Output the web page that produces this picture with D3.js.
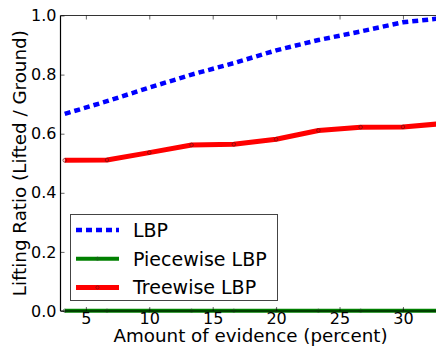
<!DOCTYPE html>
<html>
<head>
<meta charset="utf-8">
<script src="https://cdn.jsdelivr.net/npm/d3@7"></script>
<style>
  html, body { margin: 0; padding: 0; background: #fff; }
  svg { display: block; font-family: "DejaVu Sans", sans-serif; }
</style>
</head>
<body>
<svg id="chart" width="436" height="351"></svg>
<script>
// Amount of evidence (percent) at which each method was evaluated
const evidence = [10/3, 20/3, 10, 40/3, 50/3, 20, 70/3, 80/3, 30, 100/3];
// Lifting ratio (lifted / ground) per method
const lbp       = [0.667, 0.710, 0.756, 0.800, 0.839, 0.882, 0.917, 0.946, 0.977, 0.992];
const piecewise = [0.001, 0.001, 0.001, 0.001, 0.001, 0.001, 0.001, 0.001, 0.001, 0.001];
const treewise  = [0.510, 0.511, 0.536, 0.562, 0.564, 0.581, 0.611, 0.622, 0.623, 0.635];

const xTicks = [5, 10, 15, 20, 25, 30];
const yTicks = [0.0, 0.2, 0.4, 0.6, 0.8, 1.0];
const seriesNames = ["LBP", "Piecewise LBP", "Treewise LBP"];

const svg = d3.select("#chart");
const plotLeft = 60.5, plotTop = 15.5, plotBottom = 311, plotRight = 441;

const x = d3.scaleLinear().domain([3, 33]).range([plotLeft, plotRight]);
const y = d3.scaleLinear().domain([0, 1]).range([plotBottom, plotTop]);

// Plot clip
svg.append("defs").append("clipPath").attr("id", "plotclip")
  .append("rect").attr("x", plotLeft).attr("y", plotTop - 4)
  .attr("width", plotRight - plotLeft).attr("height", plotBottom - plotTop + 8);

const plot = svg.append("g").attr("clip-path", "url(#plotclip)");

const line = vals => d3.line()
  .x((d, i) => x(evidence[i]))
  .y(d => y(d))(vals);

// Piecewise LBP (green, along zero)
plot.append("path").attr("d", line(piecewise))
  .attr("fill", "none").attr("stroke", "#008000").attr("stroke-width", 4);
plot.selectAll(".pm").data(piecewise).join("circle")
  .attr("cx", (d, i) => x(evidence[i])).attr("cy", d => y(d)).attr("r", 1.6)
  .attr("fill", "none").attr("stroke", "#2a4a2a").attr("stroke-width", 0.6);

// Treewise LBP (red)
plot.append("path").attr("d", line(treewise))
  .attr("fill", "none").attr("stroke", "#ff0000").attr("stroke-width", 5)
  .attr("stroke-linejoin", "round");
plot.selectAll(".tm").data(treewise).join("circle")
  .attr("cx", (d, i) => x(evidence[i])).attr("cy", d => y(d)).attr("r", 1.8)
  .attr("fill", "none").attr("stroke", "#6a1010").attr("stroke-width", 0.7);

// LBP (blue dashed)
plot.append("path").attr("d", line(lbp))
  .attr("fill", "none").attr("stroke", "#0000ff").attr("stroke-width", 4.5)
  .attr("stroke-dasharray", "6,4");

// Frame
const frame = svg.append("g");
frame.append("line").attr("x1", plotLeft).attr("x2", plotLeft).attr("y1", plotTop).attr("y2", plotBottom)
  .attr("stroke", "#000").attr("stroke-width", 1.2);
frame.append("line").attr("x1", plotLeft).attr("x2", 436).attr("y1", plotTop).attr("y2", plotTop)
  .attr("stroke", "#333").attr("stroke-width", 1.2);
frame.append("line").attr("x1", plotLeft).attr("x2", 436).attr("y1", plotBottom).attr("y2", plotBottom)
  .attr("stroke", "#000").attr("stroke-width", 1.2);

// Ticks pointing into the plot
const tickLen = 4;
const xAxisB = d3.axisBottom(x).tickValues(xTicks).tickSize(-tickLen).tickPadding(6)
  .tickFormat(d3.format("d"));
const gxb = svg.append("g").attr("transform", `translate(0,${plotBottom})`).call(xAxisB);
const xAxisT = d3.axisTop(x).tickValues(xTicks).tickSize(-tickLen).tickFormat("");
const gxt = svg.append("g").attr("transform", `translate(0,${plotTop})`).call(xAxisT);
const yAxisL = d3.axisLeft(y).tickValues(yTicks).tickSize(-tickLen).tickPadding(4)
  .tickFormat(d3.format(".1f"));
const gyl = svg.append("g").attr("transform", `translate(${plotLeft},0)`).call(yAxisL);

[gxb, gxt, gyl].forEach(g => {
  g.select(".domain").remove();
  g.selectAll(".tick line").attr("stroke", "#000").attr("stroke-width", 0.6);
  g.selectAll("text").attr("font-family", "DejaVu Sans").attr("font-size", 16).attr("fill", "#000");
});
gxb.selectAll("text").attr("dy", "0.71em").attr("y", 2);

// Axis titles
svg.append("text").attr("x", 250.5).attr("y", 341.5).attr("text-anchor", "middle")
  .attr("font-size", 18.3).attr("fill", "#000").text("Amount of evidence (percent)");
svg.append("text").attr("transform", `translate(25.5,${(plotTop + plotBottom) / 2}) rotate(-90)`)
  .attr("text-anchor", "middle").attr("font-size", 18.3).attr("fill", "#000")
  .text("Lifting Ratio (Lifted / Ground)");

// Legend
const legend = svg.append("g");
legend.append("rect").attr("x", 70.5).attr("y", 214.5).attr("width", 207).attr("height", 86)
  .attr("fill", "#fff").attr("stroke", "#444").attr("stroke-width", 1);
const legendStyles = [
  { color: "#0000ff", width: 4.5, dash: "6,4", marker: false },
  { color: "#008000", width: 4, dash: null, marker: true, mstroke: "#2a4a2a" },
  { color: "#ff0000", width: 5, dash: null, marker: true, mstroke: "#6a1010" }
];
seriesNames.forEach((name, i) => {
  const cy = 230 + i * 28.7;
  const s = legendStyles[i];
  legend.append("line").attr("x1", 76).attr("x2", 119).attr("y1", cy).attr("y2", cy)
    .attr("stroke", s.color).attr("stroke-width", s.width)
    .attr("stroke-dasharray", s.dash);
  if (s.marker) {
    legend.append("circle").attr("cx", 97.5).attr("cy", cy).attr("r", 1.6)
      .attr("fill", "none").attr("stroke", s.mstroke).attr("stroke-width", 0.6);
  }
  legend.append("text").attr("x", 133).attr("y", cy).attr("dy", "0.36em")
    .attr("font-size", 19).attr("fill", "#000").text(name);
});
</script>
</body>
</html>
